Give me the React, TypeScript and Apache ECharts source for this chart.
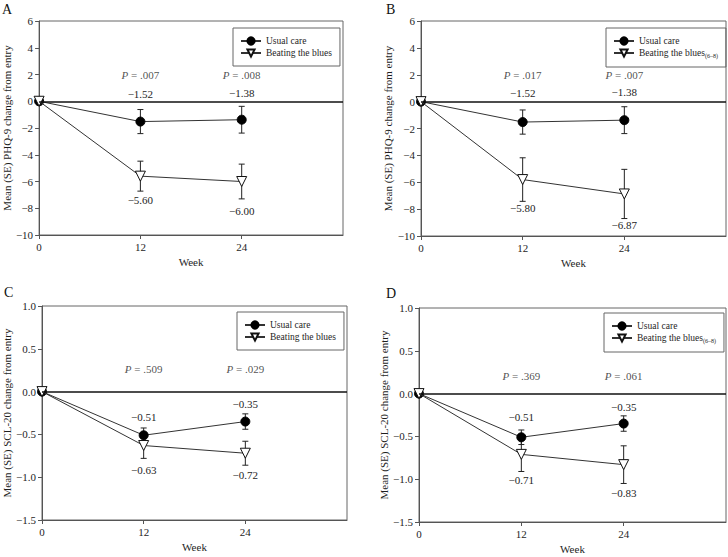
import React, { useEffect, useRef } from "react";
import * as echarts from "echarts";

// ---- data ----
const weeks = [0, 12, 24];
const xTicks = [0, 12, 24];

const phqUsual = [0, -1.52, -1.38];
const phqUsualSE = [0, 0.9, 1.0];
const phqBtbAll = [0, -5.6, -6.0];
const phqBtbAllSE = [0, 1.12, 1.3];
const phqBtb68 = [0, -5.8, -6.87];
const phqBtb68SE = [0, 1.62, 1.83];

const sclUsual = [0, -0.51, -0.35];
const sclUsualSE = [0, 0.085, 0.09];
const sclBtbAll = [0, -0.63, -0.72];
const sclBtbAllSE = [0, 0.15, 0.14];
const sclBtb68 = [0, -0.71, -0.83];
const sclBtb68SE = [0, 0.2, 0.22];

const pValuesA = [".007", ".008"];
const pValuesB = [".017", ".007"];
const pValuesC = [".509", ".029"];
const pValuesD = [".369", ".061"];

const seriesNames = ["Usual care", "Beating the blues"];
const subscript = "(6\u20138)";

const FONT = "'Liberation Serif', 'DejaVu Serif', serif";
const TXT = "#1e1e1e";
const AX = "#555";

const minus = (v: number, d: number) =>
  (v < 0 ? "\u2212" : "") + Math.abs(v).toFixed(d);

type Panel = {
  letter: string;
  letterPos: [number, number];
  grid: { left: number; top: number; width: number; height: number };
  yMin: number;
  yMax: number;
  yInterval: number;
  dec: number;
  yName: string;
  usual: number[];
  usualSE: number[];
  btb: number[];
  btbSE: number[];
  p: string[];
  pY: number;
  sub: boolean;
  legend: { left: number; top: number };
  usualOff: number[];
  btbOff: number[];
};

const panels: Panel[] = [
  {
    letter: "A",
    letterPos: [2, 2],
    grid: { left: 38, top: 21, width: 305, height: 214 },
    yMin: -10, yMax: 6, yInterval: 2, dec: 0,
    yName: "Mean (SE) PHQ-9 change from entry",
    usual: phqUsual, usualSE: phqUsualSE, btb: phqBtbAll, btbSE: phqBtbAllSE,
    p: pValuesA, pY: 2, sub: false,
    legend: { left: 233, top: 28 },
    usualOff: [-28, -27], btbOff: [24, 29],
  },
  {
    letter: "B",
    letterPos: [386, 2],
    grid: { left: 421, top: 21, width: 305, height: 215 },
    yMin: -10, yMax: 6, yInterval: 2, dec: 0,
    yName: "Mean (SE) PHQ-9 change from entry",
    usual: phqUsual, usualSE: phqUsualSE, btb: phqBtb68, btbSE: phqBtb68SE,
    p: pValuesB, pY: 2, sub: true,
    legend: { left: 606, top: 28 },
    usualOff: [-29, -28], btbOff: [28, 31],
  },
  {
    letter: "C",
    letterPos: [4, 285],
    grid: { left: 42, top: 306, width: 305, height: 214 },
    yMin: -1.5, yMax: 1.0, yInterval: 0.5, dec: 1,
    yName: "Mean (SE) SCL-20 change from entry",
    usual: sclUsual, usualSE: sclUsualSE, btb: sclBtbAll, btbSE: sclBtbAllSE,
    p: pValuesC, pY: 0.26, sub: false,
    legend: { left: 237, top: 312 },
    usualOff: [-18, -18], btbOff: [24, 22],
  },
  {
    letter: "D",
    letterPos: [386, 286],
    grid: { left: 419, top: 308, width: 307, height: 214 },
    yMin: -1.5, yMax: 1.0, yInterval: 0.5, dec: 1,
    yName: "Mean (SE) SCL-20 change from entry",
    usual: sclUsual, usualSE: sclUsualSE, btb: sclBtb68, btbSE: sclBtb68SE,
    p: pValuesD, pY: 0.2, sub: true,
    legend: { left: 604, top: 313 },
    usualOff: [-20, -17], btbOff: [26, 28],
  },
];

function errorBarSeries(i: number, vals: number[], se: number[]) {
  const data = weeks
    .map((w, k) => [w, vals[k] - se[k], vals[k] + se[k], se[k]])
    .filter((d) => d[3] > 0);
  return {
    type: "custom",
    xAxisIndex: i,
    yAxisIndex: i,
    silent: true,
    z: 2,
    data,
    renderItem: (params: any, api: any) => {
      const x = api.value(0);
      const lo = api.coord([x, api.value(1)]);
      const hi = api.coord([x, api.value(2)]);
      const hw = 3;
      const style = { stroke: "#222", lineWidth: 1 };
      return {
        type: "group",
        children: [
          { type: "line", shape: { x1: lo[0], y1: lo[1], x2: hi[0], y2: hi[1] }, style },
          { type: "line", shape: { x1: lo[0] - hw, y1: lo[1], x2: lo[0] + hw, y2: lo[1] }, style },
          { type: "line", shape: { x1: hi[0] - hw, y1: hi[1], x2: hi[0] + hw, y2: hi[1] }, style },
        ],
      };
    },
  };
}

function buildOption() {
  const grids: any[] = [];
  const xAxes: any[] = [];
  const yAxes: any[] = [];
  const series: any[] = [];
  const legends: any[] = [];
  const graphics: any[] = [];

  panels.forEach((pn, i) => {
    grids.push({
      ...pn.grid,
      show: true,
      borderColor: "#666",
      borderWidth: 1,
      backgroundColor: "transparent",
    });
    xAxes.push({
      type: "value",
      gridIndex: i,
      min: 0,
      max: 36,
      interval: 12,
      axisLine: { show: true, onZero: false, lineStyle: { color: AX, width: 1 } },
      axisTick: { show: true, length: 4, customValues: xTicks, lineStyle: { color: AX } },
      axisLabel: {
        customValues: xTicks,
        fontFamily: FONT, fontSize: 11, color: TXT, margin: 6,
      },
      splitLine: { show: false },
      name: "Week",
      nameLocation: "middle",
      nameGap: 21,
      nameTextStyle: { fontFamily: FONT, fontSize: 11, color: TXT },
    });
    yAxes.push({
      type: "value",
      gridIndex: i,
      min: pn.yMin,
      max: pn.yMax,
      interval: pn.yInterval,
      axisLine: { show: true, onZero: false, lineStyle: { color: AX, width: 1 } },
      axisTick: { show: true, length: 4, lineStyle: { color: AX } },
      axisLabel: {
        fontFamily: FONT, fontSize: 11, color: TXT, margin: 6,
        formatter: (v: number) => minus(v, pn.dec),
      },
      splitLine: { show: false },
      name: pn.yName,
      nameLocation: "middle",
      nameGap: pn.dec ? 30 : 26,
      nameTextStyle: { fontFamily: FONT, fontSize: 11, color: TXT },
    });

    series.push(errorBarSeries(i, pn.usual, pn.usualSE));
    series.push(errorBarSeries(i, pn.btb, pn.btbSE));

    const mkData = (vals: number[], offs: number[]) =>
      weeks.map((w, k) => {
        const item: any = { value: [w, vals[k]] };
        if (k > 0) {
          item.label = {
            show: true,
            position: "inside",
            offset: [0, offs[k - 1]],
            formatter: minus(vals[k], 2),
            fontFamily: FONT,
            fontSize: 11,
            color: TXT,
          };
        }
        return item;
      });

    series.push({
      name: seriesNames[0],
      type: "line",
      xAxisIndex: i,
      yAxisIndex: i,
      z: 3,
      symbol: "circle",
      symbolSize: 9,
      showAllSymbol: true,
      lineStyle: { color: "#333", width: 1 },
      itemStyle: { color: "#000", borderColor: "#000", borderWidth: 1 },
      data: mkData(pn.usual, pn.usualOff),
      markLine: {
        silent: true,
        symbol: "none",
        label: { show: false },
        lineStyle: { color: "#111", width: 1.6, type: "solid" },
        data: [{ yAxis: 0 }],
      },
    });
    series.push({
      name: seriesNames[1],
      type: "line",
      xAxisIndex: i,
      yAxisIndex: i,
      z: 4,
      symbol: "triangle",
      symbolRotate: 180,
      symbolSize: 10,
      showAllSymbol: true,
      lineStyle: { color: "#333", width: 1 },
      itemStyle: { color: "#fff", borderColor: "#111", borderWidth: 1 },
      data: mkData(pn.btb, pn.btbOff),
    });

    // P-value annotations
    series.push({
      type: "scatter",
      xAxisIndex: i,
      yAxisIndex: i,
      symbolSize: 0,
      silent: true,
      z: 5,
      data: pn.p.map((p, k) => ({
        value: [weeks[k + 1], pn.pY],
        label: {
          show: true,
          position: "inside",
          formatter: "{i|P}{n| = " + p + "}",
          fontFamily: FONT,
          fontSize: 11,
          color: TXT,
          rich: {
            i: { fontStyle: "italic", fontFamily: FONT, fontSize: 11, color: TXT },
            n: { fontFamily: FONT, fontSize: 11, color: TXT },
          },
        },
      })),
    });

    legends.push({
      orient: "vertical",
      left: pn.legend.left,
      top: pn.legend.top,
      padding: [8, 8, 8, 7],
      itemGap: 2,
      itemWidth: 20,
      itemHeight: 9,
      borderColor: "#666",
      borderWidth: 1,
      selectedMode: false,
      data: seriesNames,
      textStyle: {
        fontFamily: FONT,
        fontSize: 9.5,
        color: TXT,
        rich: {
          n: { fontFamily: FONT, fontSize: 9.5, color: TXT },
          s: { fontFamily: FONT, fontSize: 6, color: TXT, padding: [6, 0, 0, 0] },
        },
      },
      formatter: (name: string) =>
        pn.sub && name === seriesNames[1]
          ? "{n|" + name + "}{s|" + subscript + "}"
          : "{n|" + name + "}",
    });

    graphics.push({
      type: "text",
      left: pn.letterPos[0],
      top: pn.letterPos[1],
      style: { text: pn.letter, font: `14px ${FONT}`, fill: "#111" },
    });
  });

  return {
    animation: false,
    backgroundColor: "#fff",
    textStyle: { fontFamily: FONT },
    grid: grids,
    xAxis: xAxes,
    yAxis: yAxes,
    legend: legends,
    series,
    graphic: graphics,
  };
}

export default function App() {
  const ref = useRef<HTMLDivElement>(null);
  useEffect(() => {
    if (!ref.current) return;
    const chart = echarts.init(ref.current, null, { renderer: "svg" });
    chart.setOption(buildOption() as any);
    return () => chart.dispose();
  }, []);
  return (
    <div
      ref={ref}
      style={{ position: "absolute", left: 0, top: 0, width: 728, height: 557 }}
    />
  );
}
